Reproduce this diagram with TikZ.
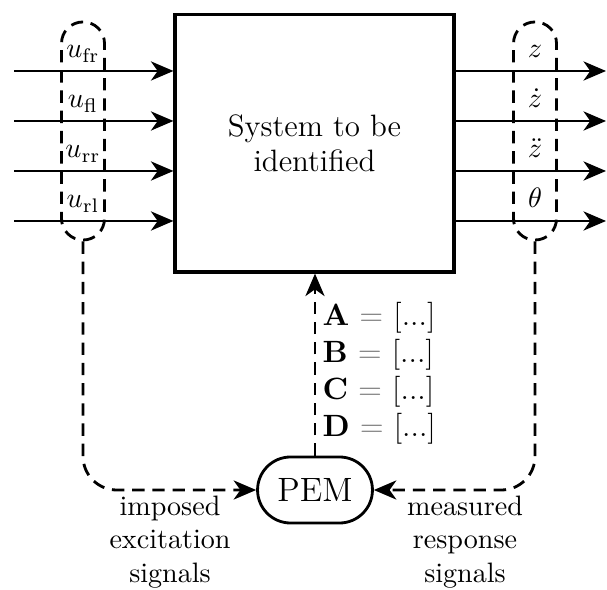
\documentclass[tikz,border=0pt]{standalone}
\usetikzlibrary{arrows.meta,shapes.misc}
\begin{document}
\begin{tikzpicture}[x=0.3559pt,y=-0.3559pt,
    sig/.style={line width=1pt,-{Stealth[length=8pt,width=6.8pt,inset=2.4pt]}},
    fb/.style={sig,dash pattern=on 4.4pt off 2.8pt},
    grp/.style={draw,line width=1pt,dash pattern=on 4.4pt off 2.8pt,rounded corners=7.6pt,minimum width=15.3pt,minimum height=77.6pt}]
  \useasboundingbox (0,0) rectangle (607,590);

  \node[draw,line width=1.1pt,minimum width=99.3pt,minimum height=91.5pt,align=center,font=\fontsize{11}{12.5}\selectfont] (sys) at (314.5,143.5) {System to be\\identified};
  \node[grp] (ins) at (83,131) {};
  \node[grp] (outs) at (535,131) {};

  \foreach \y/\s [count=\k] in {71/fr, 121/fl, 171/rr, 221/rl} {
    \coordinate (u\k) at (14,\y);
    \coordinate (y\k) at (606,\y);
    \draw[sig] (u\k) -- (u\k -| sys.west);
    \draw[sig] (y\k -| sys.east) -- (y\k);
    \node[anchor=base,inner sep=1pt] (ul\k) at (83,\y-13) {$u_{\mathrm{\s}}$};
  }
  \foreach \o [count=\k] in {z,\dot{z},\ddot{z},\theta} {
    \node[anchor=base,inner sep=1pt] (yl\k) at (535,{8+50*\k}) {$\o$};
  }

  \node[draw,rounded rectangle,line width=1pt,minimum width=40.9pt,minimum height=23.5pt,inner sep=0,font=\large] (pem) at (315,490) {PEM};

  \draw[fb] (pem.north) -- (pem.north |- sys.south);
  \draw[fb,rounded corners=12pt] (ins.south) |- (pem.west);
  \draw[fb,rounded corners=12pt] (outs.south) |- (pem.east);

  \foreach \m [count=\k] in {A,B,C,D} {
    \node[anchor=west,inner sep=0,font=\fontsize{11}{13}\selectfont] (m\m) at (322,{281+37*\k}) {$\mathbf{\m}$ \textcolor{gray}{$=$} [...]};
  }

  \node[anchor=north,align=center,inner sep=0] (imp) at (170,495) {imposed\\excitation\\signals};
  \node[anchor=north,align=center,inner sep=0] (meas) at (465,495) {measured\\response\\signals};
\end{tikzpicture}
\end{document}
